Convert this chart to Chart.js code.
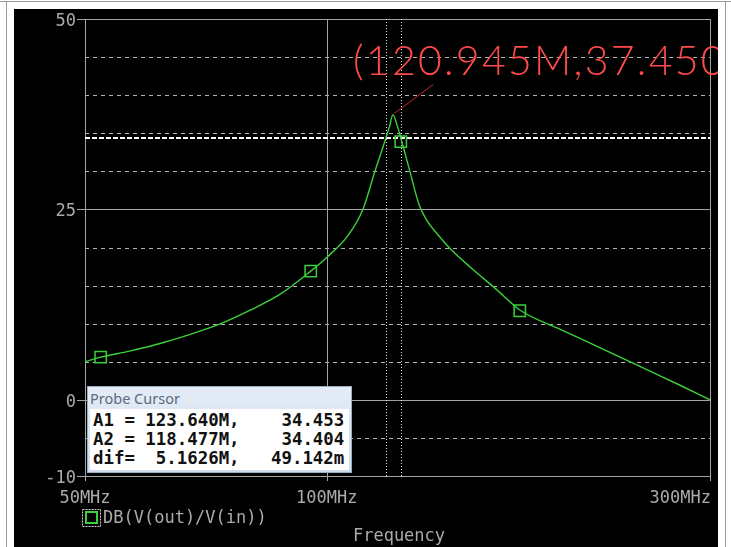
<!DOCTYPE html>
<html><head><meta charset="utf-8">
<script src="https://cdn.jsdelivr.net/npm/chart.js@4/dist/chart.umd.min.js"></script>
<style>
html,body{margin:0;padding:0;background:#fff;}
#wrap{position:relative;width:731px;height:547px;overflow:hidden;}
#c{position:absolute;left:0;top:0;}
#probe{position:absolute;left:87px;top:386px;width:265px;height:87px;border:1px solid #9aaec6;background:linear-gradient(#e4ecf6,#cddbeb);box-sizing:border-box;}
#probe .t{font:14.5px "Noto Sans",sans-serif;color:#5a6a82;position:absolute;left:2px;top:1px;}
#probe pre{position:absolute;left:2px;top:22px;right:2px;bottom:2px;margin:0;background:#fff;font:bold 17.4px "DejaVu Sans Mono",monospace;line-height:19px;padding:2px 0 0 3px;color:#111;}
</style></head>
<body>
<div id="wrap">
<canvas id="c" width="731" height="547"></canvas>
<div id="probe"><div class="t">Probe Cursor</div><pre id="probeText"></pre></div>
</div>
<script>
// ---- data ----
const freqMHz = [50, 52.3, 56.8, 62.0, 67.6, 73.8, 80.4, 87.6, 95.5, 100, 106.3, 110.9, 114.8, 118.5, 119.7, 120.9, 122.2, 123.6, 126.9, 130.3, 133.5, 137.2, 142.3, 151.3, 162.6, 173.9, 195.9, 219.4, 253.4, 276.2, 300];
const gainDB  = [5.0, 5.6, 6.4, 7.4, 8.6, 10.0, 11.8, 13.9, 16.9, 18.7, 21.6, 25.0, 30.0, 34.4, 35.9, 37.45, 36.2, 34.45, 30.0, 25.6, 23.4, 21.8, 19.9, 17.3, 14.5, 11.8, 9.2, 6.8, 3.7, 1.85, 0.0];
const markerFreq = [52.3, 95.5, 123.64, 173.9];
const markerDB   = [5.6, 16.9, 33.9, 11.7];
const xTickValues = [50, 100, 300];
const xTickLabels = ['50MHz', '100MHz', '300MHz'];
const yGridValues = [-10, -5, 0, 5, 10, 15, 20, 25, 30, 35, 40, 45, 50];
const yLabelValues = [50, 25, 0, -10];
const ySolidValues = [0, 25];
const cursorFreq = [123.640, 118.477];
const cursorDB   = [34.453, 34.404];
const peakFreq = 120.945, peakDB = 37.450;
const peakText = '(120.945M,37.450)';
const legendText = 'DB(V(out)/V(in))';
const xTitle = 'Frequency';
const probeLines = ['A1 = 123.640M,    34.453', 'A2 = 118.477M,    34.404', 'dif=  5.1626M,   49.142m'];

document.getElementById('probeText').textContent = probeLines.join('\n');

const GREEN = '#3ccf3c';
const LBL = '#ababab';
const MONO = '"DejaVu Sans Mono", monospace';

const spice = {
  id: 'spice',
  beforeDraw(chart) {
    const c = chart.ctx;
    c.save();
    c.fillStyle = '#fff'; c.fillRect(0, 0, 731, 547);
    c.strokeStyle = '#9c9c9c'; c.lineWidth = 1;
    c.beginPath(); c.moveTo(0, 1.5); c.lineTo(731, 1.5); c.stroke();
    c.beginPath(); c.moveTo(6.5, 1); c.lineTo(6.5, 547); c.stroke();
    c.beginPath(); c.moveTo(725.5, 1); c.lineTo(725.5, 547); c.stroke();
    c.fillStyle = '#000'; c.fillRect(14, 9, 704, 538);
    c.restore();
  },
  beforeDatasetsDraw(chart) {
    const c = chart.ctx, xs = chart.scales.x, ys = chart.scales.y;
    const {left, right, top, bottom} = chart.chartArea;
    c.save();
    c.lineWidth = 1;
    yGridValues.forEach(v => {
      if (v === 50 || v === -10) return;
      const py = Math.round(ys.getPixelForValue(v)) + 0.5;
      const solid = ySolidValues.includes(v);
      c.setLineDash(solid ? [] : [4, 4]);
      c.strokeStyle = solid ? '#a4a4a4' : '#b4b4b4';
      c.beginPath(); c.moveTo(left, py); c.lineTo(right, py); c.stroke();
    });
    c.setLineDash([]);
    xTickValues.forEach(v => {
      const px = Math.round(xs.getPixelForValue(v)) + 0.5;
      c.strokeStyle = '#a4a4a4';
      if (v !== 50 && v !== 300) { c.beginPath(); c.moveTo(px, top); c.lineTo(px, bottom); c.stroke(); }
      c.beginPath(); c.moveTo(px, bottom); c.lineTo(px, bottom + 5); c.stroke();
    });
    c.strokeStyle = '#a4a4a4';
    c.strokeRect(Math.round(left) + 0.5, Math.round(top) + 0.5, Math.round(right - left), Math.round(bottom - top));
    c.fillStyle = LBL; c.font = '17px ' + MONO; c.textAlign = 'right'; c.textBaseline = 'alphabetic';
    yLabelValues.forEach(v => {
      const py = Math.round(ys.getPixelForValue(v)) + 0.5;
      c.beginPath(); c.moveTo(left - 8, py); c.lineTo(left, py); c.stroke();
      c.fillText(String(v), left - 9, py + 6);
    });
    xTickValues.forEach((v, i) => {
      const px = xs.getPixelForValue(v);
      const last = i === xTickValues.length - 1;
      c.textAlign = last ? 'right' : 'center';
      c.fillText(xTickLabels[i], px + (last ? 1 : 0), 503);
    });
    c.strokeStyle = '#e8e8e8';
    c.setLineDash([1, 2]);
    cursorFreq.forEach(f => {
      const px = Math.round(xs.getPixelForValue(f)) + 0.5;
      c.beginPath(); c.moveTo(px, top); c.lineTo(px, bottom); c.stroke();
    });
    c.strokeStyle = '#ffffff';
    c.setLineDash([5, 2]);
    cursorDB.forEach(v => {
      const py = Math.round(ys.getPixelForValue(v)) + 0.5;
      c.beginPath(); c.moveTo(left, py); c.lineTo(right, py); c.stroke();
    });
    c.restore();
  },
  afterDatasetsDraw(chart) {
    const c = chart.ctx, xs = chart.scales.x, ys = chart.scales.y;
    c.save();
    const px = xs.getPixelForValue(peakFreq), py = ys.getPixelForValue(peakDB);
    c.strokeStyle = '#c02a2a'; c.lineWidth = 1;
    c.beginPath(); c.moveTo(px + 1, py - 1); c.lineTo(px + 40, py - 30); c.stroke();
    c.beginPath(); c.rect(14, 9, 704, 538); c.clip();
    c.fillStyle = '#ff4a4a';
    c.font = '300 41px Lato, "DejaVu Sans", sans-serif';
    c.textAlign = 'left'; c.textBaseline = 'alphabetic';
    const target = 17 * 22.75;
    c.letterSpacing = '0px';
    const w = c.measureText(peakText).width;
    c.letterSpacing = ((target - w) / peakText.length).toFixed(2) + 'px';
    c.fillText(peakText, 353, 75);
    c.restore();
    c.save();
    c.strokeStyle = '#cfcfcf'; c.lineWidth = 1; c.setLineDash([2, 1]);
    c.strokeRect(82.5, 509.5, 18, 17);
    c.setLineDash([]);
    c.strokeStyle = GREEN; c.lineWidth = 2;
    c.strokeRect(86, 512, 11, 11);
    c.fillStyle = LBL; c.font = '17px ' + MONO; c.textAlign = 'left'; c.textBaseline = 'alphabetic';
    c.fillText(legendText, 103, 523);
    c.textAlign = 'center';
    c.fillText(xTitle, 399, 541);
    c.restore();
  }
};

new Chart(document.getElementById('c'), {
  type: 'line',
  data: {
    datasets: [
      {
        data: freqMHz.map((f, i) => ({x: f, y: gainDB[i]})),
        borderColor: GREEN, borderWidth: 1.4, pointRadius: 0,
        cubicInterpolationMode: 'monotone', fill: false
      },
      {
        data: markerFreq.map((f, i) => ({x: f, y: markerDB[i]})),
        showLine: false, pointStyle: 'rect', pointRadius: 8,
        pointBorderColor: GREEN, pointBackgroundColor: 'rgba(0,0,0,0)', pointBorderWidth: 1.5,
        borderColor: GREEN, clip: false
      }
    ]
  },
  options: {
    responsive: false, animation: false, events: [],
    layout: {padding: {left: 0, top: 19, right: 21, bottom: 0}},
    plugins: {legend: {display: false}, tooltip: {enabled: false}},
    scales: {
      x: {
        type: 'logarithmic', min: 50, max: 300, position: 'bottom',
        grid: {display: false}, border: {display: false}, ticks: {display: false},
        afterFit(s) { s.height = 71; }
      },
      y: {
        type: 'linear', min: -10, max: 50,
        grid: {display: false}, border: {display: false}, ticks: {display: false},
        afterFit(s) { s.width = 85; }
      }
    }
  },
  plugins: [spice]
});
</script>
</body></html>
